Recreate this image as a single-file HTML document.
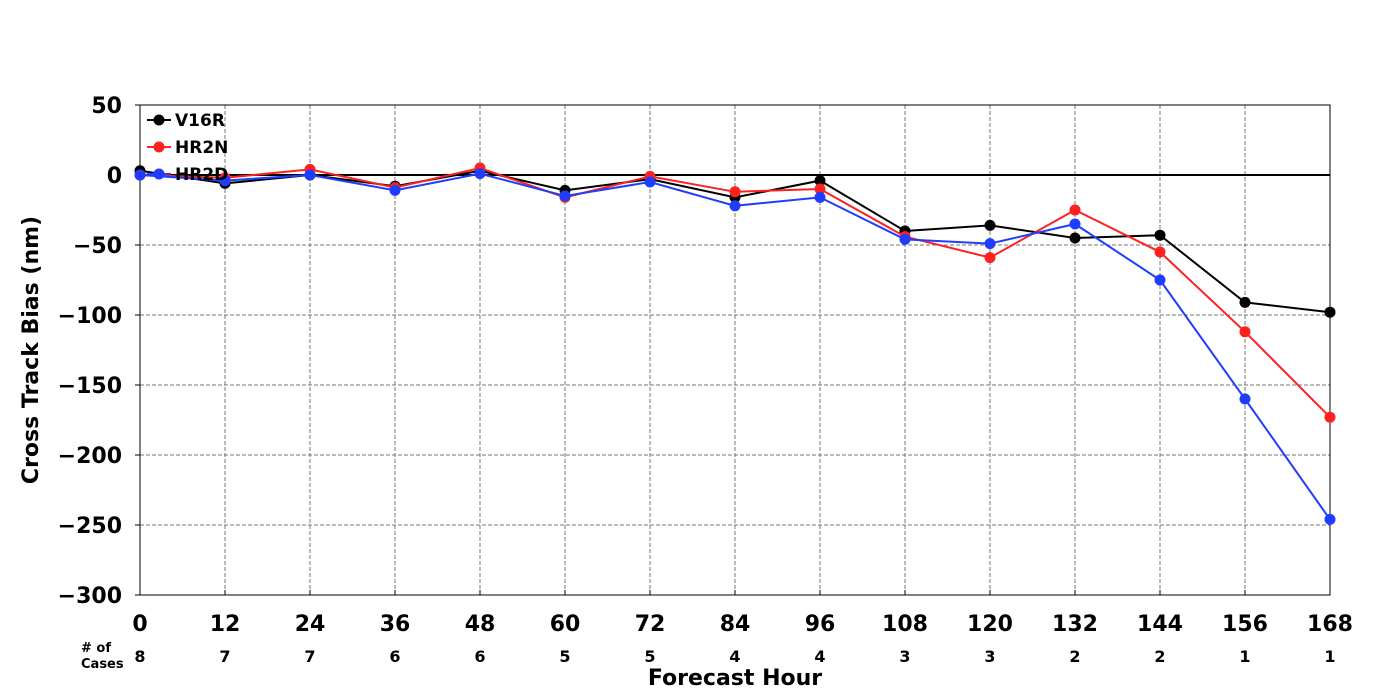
<!DOCTYPE html>
<html><head><meta charset="utf-8"><style>
html,body{margin:0;padding:0;background:#fff;}
svg{display:block;font-family:"DejaVu Sans","Liberation Sans",sans-serif;font-weight:bold;}
</style></head><body>
<svg id="chart" width="1400" height="700"></svg>
<script>
const hours=[0,12,24,36,48,60,72,84,96,108,120,132,144,156,168];
const cases=[8,7,7,6,6,5,5,4,4,3,3,2,2,1,1];
const yTicks=[50,0,-50,-100,-150,-200,-250,-300];
const v16r=[3,-6,0,-8,3,-11,-3,-16,-4,-40,-36,-45,-43,-91,-98];
const hr2n=[0,-2,4,-9,5,-16,-1,-12,-10,-44,-59,-25,-55,-112,-173];
const hr2d=[0,-4,0,-11,1,-15,-5,-22,-16,-46,-49,-35,-75,-160,-246];
const seriesNames=["V16R","HR2N","HR2D"];
const seriesColors=["#000000","#ff2020","#1f3dff"];
const L=140,R=1330,T=105,B=595;
const X=h=>L+(h-0)/(168-0)*(R-L);
const Y=v=>T+(50-v)/(350)*(B-T);
const svg=document.getElementById('chart');
const NS='http://www.w3.org/2000/svg';
function mk(tag,attrs,parent){const e=document.createElementNS(NS,tag);for(const k in attrs)e.setAttribute(k,attrs[k]);(parent||svg).appendChild(e);return e;}
hours.forEach((h,i)=>{if(i>0&&i<hours.length-1){const g=mk('line',{x1:X(h),x2:X(h),y1:T,y2:B,stroke:'#777','stroke-dasharray':'4,2','stroke-width':1});

}});
yTicks.forEach(v=>{if(v<50&&v>-300&&v!==0){const g=mk('line',{x1:L,x2:R,y1:Y(v),y2:Y(v),stroke:'#777','stroke-dasharray':'4,2','stroke-width':1});

}});
const zl=mk('line',{x1:L,x2:R,y1:Y(0),y2:Y(0),stroke:'#000','stroke-width':2});


const fr=mk('rect',{x:L,y:T,width:R-L,height:B-T,fill:'none',stroke:'#000','stroke-width':1});


yTicks.forEach(v=>{mk('line',{x1:L-5,x2:L,y1:Y(v),y2:Y(v),stroke:'#000'});
const t=mk('text',{x:L-18,y:Y(v)+8,'text-anchor':'end','font-size':22});t.textContent=String(v).replace('-','\u2212');

});
hours.forEach((h,i)=>{mk('line',{x1:X(h),x2:X(h),y1:B-5,y2:B,stroke:'#000'});
const t=mk('text',{x:X(h),y:631,'text-anchor':'middle','font-size':22});t.textContent=h;


const c=mk('text',{x:X(h),y:662,'text-anchor':'middle','font-size':16});c.textContent=cases[i];

});
const c1=mk('text',{x:81,y:652,'font-size':13});c1.textContent='# of';


const c2=mk('text',{x:81,y:668,'font-size':13});c2.textContent='Cases';


const xt=mk('text',{x:735,y:685,'text-anchor':'middle','font-size':22});xt.textContent='Forecast Hour';


const yt=mk('text',{x:38,y:350,'text-anchor':'middle','font-size':22,transform:'rotate(-90 38 350)'});yt.textContent='Cross Track Bias (nm)';


[v16r,hr2n,hr2d].forEach((vals,si)=>{
const g=mk('g',{});


mk('polyline',{points:vals.map((v,i)=>X(hours[i])+','+Y(v)).join(' '),fill:'none',stroke:seriesColors[si],'stroke-width':2},g);
vals.forEach((v,i)=>{const p=mk('circle',{cx:X(hours[i]),cy:Y(v),r:5.5,fill:seriesColors[si]},g);

});
});
seriesNames.forEach((n,i)=>{const y=120+i*27;
const g=mk('g',{});


mk('line',{x1:147,x2:171,y1:y,y2:y,stroke:seriesColors[i],'stroke-width':2},g);
mk('circle',{cx:159,cy:y,r:5.5,fill:seriesColors[i]},g);
const t=mk('text',{x:175,y:y+6,'font-size':17},g);t.textContent=n;});
</script>
</body></html>
